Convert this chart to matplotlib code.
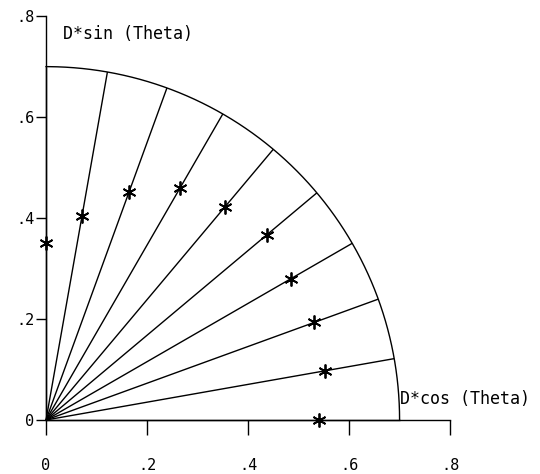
import numpy as np
import matplotlib
matplotlib.use("Agg")
import matplotlib.pyplot as plt

# Radial sweep: angle of each ray (degrees) and measured distance D along it
theta_deg = [0, 10, 20, 30, 40, 50, 60, 70, 80, 90]
distance = [0.54, 0.56, 0.565, 0.56, 0.57, 0.55, 0.53, 0.48, 0.41, 0.35]
outer_radius = 0.7
tick_values = [0, 0.2, 0.4, 0.6, 0.8]
tick_labels = ["0", ".2", ".4", ".6", ".8"]

font = ["DejaVu Sans Mono"]

fig = plt.figure(figsize=(5.40, 4.74), dpi=100)
ax = fig.add_axes([0, 0, 1, 1])
ax.set_xlim(-0.0911, 0.978)
ax.set_ylim(-0.107, 0.832)

lw = 1.0
# rays from the origin to the outer arc
for t in theta_deg:
    r = np.radians(t)
    ax.plot([0, outer_radius * np.cos(r)], [0, outer_radius * np.sin(r)],
            color="black", lw=lw, solid_capstyle="butt")

# outer quarter arc
phi = np.linspace(0, np.pi / 2, 200)
ax.plot(outer_radius * np.cos(phi), outer_radius * np.sin(phi), color="black", lw=lw)

# measured points
th = np.radians(theta_deg)
d = np.array(distance)
ax.plot(d * np.cos(th), d * np.sin(th), linestyle="none",
        marker=(6, 2, 0), markersize=10, markeredgewidth=1.3, color="black")

# axes drawn through the origin
for side in ("top", "right"):
    ax.spines[side].set_visible(False)
ax.spines["left"].set_position(("data", 0))
ax.spines["bottom"].set_position(("data", 0))
ax.spines["left"].set_bounds(0, 0.8)
ax.spines["bottom"].set_bounds(0, 0.8)
ax.spines["left"].set_linewidth(lw)
ax.spines["bottom"].set_linewidth(lw)

ax.set_xticks(tick_values)
ax.set_xticklabels(tick_labels, family=font, fontsize=11)
ax.set_yticks(tick_values)
ax.set_yticklabels(tick_labels, family=font, fontsize=11)
ax.tick_params(axis="x", direction="out", length=10.5, width=lw, pad=17)
ax.tick_params(axis="y", direction="out", length=7.5, width=lw, pad=1)

ax.text(0.034, 0.764, "D*sin (Theta)", family=font, fontsize=12,
        ha="left", va="center")
ax.text(0.701, 0.042, "D*cos (Theta)", family=font, fontsize=12,
        ha="left", va="center")

fig.savefig("out.png", dpi=100)
